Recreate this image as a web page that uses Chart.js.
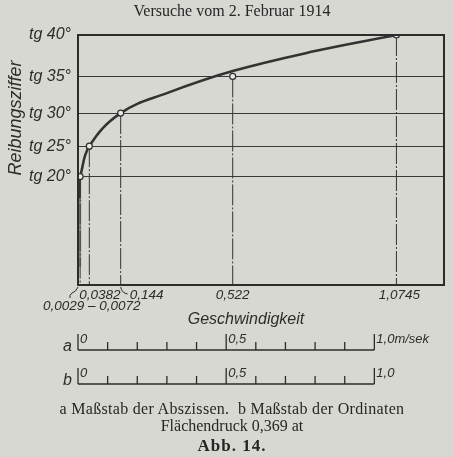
<!DOCTYPE html>
<html lang="de">
<head>
    <meta charset="UTF-8">
    <title>Versuche vom 2. Februar 1914</title>
    <script src="https://cdn.jsdelivr.net/npm/chart.js"></script>
    <style>
        body { margin: 0; background: #d8d8d2; }
        .page { position: relative; width: 453px; height: 457px; overflow: hidden; }
        canvas { position: absolute; left: 0; top: 0; }
        .txt { position: absolute; left: 0; width: 464px; text-align: center; color: #262626;
               font-family: "Liberation Serif", serif; white-space: pre; line-height: 18px; }
        #title { top: 2px; font-size: 16px; }
        #cap1 { top: 400px; font-size: 16px; letter-spacing: 0.3px; }
        #cap2 { top: 417px; font-size: 16px; }
        #cap3 { top: 437px; font-size: 17px; font-weight: bold; letter-spacing: 1px; }
    </style>
</head>
<body>
<div class="page">
    <canvas id="chart" width="453" height="457"></canvas>
    <div class="txt" id="title">Versuche vom 2. Februar 1914</div>
    <div class="txt" id="cap1">a Maßstab der Abszissen.  b Maßstab der Ordinaten</div>
    <div class="txt" id="cap2">Flächendruck 0,369 at</div>
    <div class="txt" id="cap3">Abb. 14.</div>
</div>

<script>
// measured points: speed (m/sek) and friction coefficient (tan of angle)
const speeds = [0.0072, 0.0382, 0.144, 0.522, 1.0745];
const friction = [0.364, 0.466, 0.577, 0.700, 0.839];

// drawn curve
const curveX = [0.0072, 0.0382, 0.144, 0.3, 0.522, 0.8, 1.0745];
const curveY = [0.364, 0.466, 0.577, 0.644, 0.718, 0.785, 0.839];

// very low speeds 0,0029 - 0,0072
const lowX = [0.004, 0.004];
const lowDarkY = [0.364, 0.29];
const lowGrayY = [0.364, 0.06];

// y ticks: tg 20° ... tg 40°
const yTickValues = [0.364, 0.466, 0.577, 0.700, 0.839];
const yTickLabels = ['tg 20°', 'tg 25°', 'tg 30°', 'tg 35°', 'tg 40°'];

// x labels
const xLabelValues = [0.0382, 0.144, 0.522, 1.0745];
const xLabelTexts = ['0,0382', '0,144', '0,522', '1,0745'];
const lowLabel = '0,0029 – 0,0072';

// scale bars a and b
const barTicks = [0, 0.1, 0.2, 0.3, 0.4, 0.5, 0.6, 0.7, 0.8, 0.9, 1.0];
const barLabelsA = ['0', '0,5', '1,0m/sek'];
const barLabelsB = ['0', '0,5', '1,0'];
const barLabelValues = [0, 0.5, 1.0];

const ink = '#2c2c2c';
const italic = 'italic 13.5px "Liberation Sans", sans-serif';

const dropData = [];
speeds.forEach((s, i) => {
    dropData.push({x: s, y: friction[i]}, {x: s, y: 0}, {x: s, y: null});
});

const paperPlugin = {
    id: 'paper',
    afterDraw(chart) {
        const ctx = chart.ctx;
        const xs = chart.scales.x;
        const a = chart.chartArea;
        ctx.save();
        ctx.strokeStyle = ink;
        ctx.fillStyle = ink;

        // frame
        ctx.lineWidth = 2;
        ctx.strokeRect(a.left, a.top, a.right - a.left, a.bottom - a.top);

        // y axis title
        ctx.save();
        ctx.translate(16, 118);
        ctx.rotate(-Math.PI / 2);
        ctx.font = 'italic 18px "Liberation Sans", sans-serif';
        ctx.textAlign = 'center';
        ctx.textBaseline = 'middle';
        ctx.fillText('Reibungsziffer', 0, 0);
        ctx.restore();

        // x labels
        ctx.font = italic;
        ctx.textBaseline = 'middle';
        const ly = a.bottom + 10;
        ctx.textAlign = 'left';
        ctx.fillText(xLabelTexts[0], xs.getPixelForValue(xLabelValues[0]) - 10, ly);
        ctx.fillText(xLabelTexts[1], xs.getPixelForValue(xLabelValues[1]) + 9, ly);
        ctx.textAlign = 'center';
        ctx.fillText(xLabelTexts[2], xs.getPixelForValue(xLabelValues[2]), ly);
        ctx.fillText(xLabelTexts[3], xs.getPixelForValue(xLabelValues[3]) + 3, ly);

        // little hooks
        ctx.lineWidth = 1;
        let hx = xs.getPixelForValue(xLabelValues[1]);
        ctx.beginPath();
        ctx.moveTo(hx, a.bottom + 2);
        ctx.quadraticCurveTo(hx + 1, a.bottom + 8, hx + 7, a.bottom + 9);
        ctx.stroke();
        hx = xs.getPixelForValue(0);
        ctx.beginPath();
        ctx.moveTo(hx, a.bottom + 2);
        ctx.quadraticCurveTo(hx - 2, a.bottom + 7, hx - 6, a.bottom + 8);
        ctx.quadraticCurveTo(hx - 9, a.bottom + 10, hx - 8, a.bottom + 13);
        ctx.stroke();
        ctx.textAlign = 'left';
        ctx.fillText(lowLabel, 43, a.bottom + 21);

        ctx.textAlign = 'center';
        ctx.font = 'italic 16px "Liberation Sans", sans-serif';
        ctx.fillText('Geschwindigkeit', 246, a.bottom + 35);

        // scale bars
        const drawBar = (y, letter, labels) => {
            ctx.lineWidth = 1.3;
            const x0 = xs.getPixelForValue(barTicks[0]);
            const x1 = xs.getPixelForValue(barTicks[barTicks.length - 1]);
            ctx.beginPath();
            ctx.moveTo(x0, y);
            ctx.lineTo(x1, y);
            barTicks.forEach(t => {
                const px = xs.getPixelForValue(t);
                const big = barLabelValues.includes(t);
                ctx.moveTo(px, y);
                ctx.lineTo(px, y - (big ? 16 : 8));
            });
            ctx.stroke();
            ctx.font = 'italic 13px "Liberation Sans", sans-serif';
            ctx.textAlign = 'left';
            ctx.textBaseline = 'middle';
            labels.forEach((l, i) => {
                ctx.fillText(l, xs.getPixelForValue(barLabelValues[i]) + 2, y - 11);
            });
            ctx.font = 'italic 16px "Liberation Sans", sans-serif';
            ctx.textAlign = 'right';
            ctx.fillText(letter, xs.getPixelForValue(0) - 6, y - 3);
        };
        drawBar(350, 'a', barLabelsA);
        drawBar(384, 'b', barLabelsB);

        ctx.restore();
    }
};

new Chart(document.getElementById('chart'), {
    type: 'scatter',
    data: {
        datasets: [
            {
                label: 'Messpunkte',
                data: speeds.map((s, i) => ({x: s, y: friction[i]})),
                pointRadius: 3,
                pointBackgroundColor: '#e8e8e2',
                pointBorderColor: ink,
                pointBorderWidth: 1.2,
                showLine: false,
                order: 0
            },
            {
                label: 'Kurve',
                data: curveX.map((x, i) => ({x: x, y: curveY[i]})),
                showLine: true,
                borderColor: '#333',
                borderWidth: 2.6,
                pointRadius: 0,
                tension: 0.4,
                order: 1
            },
            {
                label: 'Kleine Geschwindigkeiten',
                data: lowX.map((x, i) => ({x: x, y: lowDarkY[i]})),
                showLine: true,
                borderColor: '#333',
                borderWidth: 3,
                pointRadius: 0,
                order: 2
            },
            {
                label: 'Kleine Geschwindigkeiten (grau)',
                data: lowX.map((x, i) => ({x: x, y: lowGrayY[i]})),
                showLine: true,
                borderColor: '#8c8c88',
                borderWidth: 4,
                pointRadius: 0,
                order: 4
            },
            {
                label: 'Lote',
                data: dropData,
                showLine: true,
                spanGaps: false,
                borderColor: '#333',
                borderWidth: 1,
                borderDash: [21, 2, 2, 2],
                pointRadius: 0,
                order: 3
            }
        ]
    },
    options: {
        responsive: false,
        animation: false,
        layout: { padding: { left: 0, top: 35, right: 9, bottom: 172 } },
        plugins: {
            legend: { display: false },
            tooltip: { enabled: false }
        },
        scales: {
            x: {
                type: 'linear',
                min: 0,
                max: 1.235,
                display: false
            },
            y: {
                type: 'linear',
                min: 0,
                max: 0.839,
                afterFit: s => { s.width = 78; },
                afterBuildTicks: s => { s.ticks = yTickValues.map(v => ({value: v})); },
                border: { display: false },
                grid: { color: '#3a3a3a', lineWidth: 1, drawTicks: false },
                ticks: {
                    autoSkip: false,
                    padding: 7,
                    color: ink,
                    font: { family: '"Liberation Sans", sans-serif', style: 'italic', size: 16 },
                    callback: (v, i) => yTickLabels[i]
                }
            }
        }
    },
    plugins: [paperPlugin]
});
</script>
</body>
</html>
